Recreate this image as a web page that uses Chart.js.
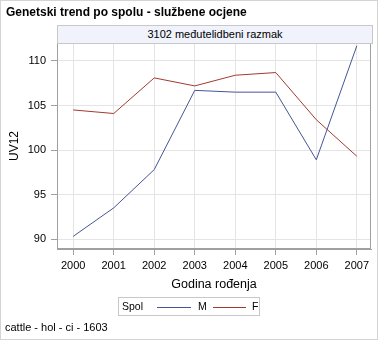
<!DOCTYPE html>
<html>
<head>
<meta charset="utf-8">
<script src="https://cdn.jsdelivr.net/npm/chart.js@4/dist/chart.umd.min.js"></script>
<style>
  body { margin: 0; background: #fff; font-family: "Liberation Sans", Arial, sans-serif; }
  #frame { position: relative; width: 376px; height: 338px; border: 1px solid #d4d4d4; overflow: hidden; }
  #chart { position: absolute; left: -1px; top: -1px; }
  .title { position: absolute; left: 5px; top: 4px; font-size: 12px; font-weight: bold; color: #000; }
  .header { position: absolute; left: 56px; top: 24px; width: 314px; height: 17px; background: #f0f3fb;
            border: 1px solid #c8c8c8; font-size: 11px; text-align: center; line-height: 17px; }
  .legend { position: absolute; left: 117px; top: 296px; width: 140px; height: 17px; border: 1px solid #c8c8c8;
            font-size: 10.5px; line-height: 17px; }
  .legend span { position: absolute; top: 0; }
  .legend i { position: absolute; top: 9px; height: 0; border-top: 1px solid; }
  .foot { position: absolute; left: 4px; top: 320px; font-size: 11px; }
</style>
</head>
<body>
<div id="frame">
  <canvas id="chart" width="378" height="340"></canvas>
  <div class="title">Genetski trend po spolu - službene ocjene</div>
  <div class="header">3102 međutelidbeni razmak</div>
  <div class="legend">
    <span style="left:3px">Spol</span>
    <i style="left:38px;width:34px;border-color:#445694"></i>
    <span style="left:79px">M</span>
    <i style="left:94px;width:33px;border-color:#a23a2e"></i>
    <span style="left:133px">F</span>
  </div>
  <div class="foot">cattle - hol - ci - 1603</div>
</div>
<script>
// data
const years = [2000, 2001, 2002, 2003, 2004, 2005, 2006, 2007];
const maleValues = [90.3, 93.5, 97.8, 106.7, 106.5, 106.5, 98.9, 111.7];
const femaleValues = [104.5, 104.1, 108.1, 107.2, 108.4, 108.7, 103.4, 99.3];
const yTicks = [90, 95, 100, 105, 110];

function toPoints(values) {
    return years.map((year, i) => ({ x: year, y: values[i] }));
}

const plotBorder = {
    id: 'plotBorder',
    afterDraw(chart) {
        const { ctx, chartArea } = chart;
        ctx.save();
        ctx.strokeStyle = '#a0a0a0';
        ctx.lineWidth = 1;
        ctx.strokeRect(chartArea.left + 0.5, chartArea.top + 0.5,
            chartArea.right - chartArea.left - 1, chartArea.bottom - chartArea.top - 1);
        ctx.restore();
    }
};

new Chart(document.getElementById('chart'), {
    type: 'line',
    data: {
        datasets: [
            { label: 'M', data: toPoints(maleValues), borderColor: '#445694', borderWidth: 1, pointRadius: 0, tension: 0 },
            { label: 'F', data: toPoints(femaleValues), borderColor: '#a23a2e', borderWidth: 1, pointRadius: 0, tension: 0 }
        ]
    },
    options: {
        responsive: false,
        animation: false,
        layout: { padding: { left: 0, top: 43, right: 7, bottom: 48 } },
        plugins: { legend: { display: false }, tooltip: { enabled: false } },
        scales: {
            x: {
                type: 'linear',
                min: 1999.6,
                max: 2007.35,
                afterBuildTicks: scale => { scale.ticks = years.map(v => ({ value: v })); },
                afterFit: scale => { scale.height = 43; },
                grid: { color: '#e4e4e4', tickColor: '#a0a0a0', tickLength: 6 },
                border: { color: '#a0a0a0' },
                ticks: { color: '#000', font: { family: 'Liberation Sans', size: 11 }, padding: 4, maxRotation: 0,
                         callback: v => String(v) },
                title: { display: true, text: 'Godina rođenja', color: '#000',
                         font: { family: 'Liberation Sans', size: 12.5 }, padding: { top: 3, bottom: 0 } }
            },
            y: {
                min: 88.88,
                max: 112.02,
                afterBuildTicks: scale => { scale.ticks = yTicks.map(v => ({ value: v })); },
                afterFit: scale => { scale.width = 57; },
                grid: { color: '#e4e4e4', tickColor: '#a0a0a0', tickLength: 6 },
                border: { color: '#a0a0a0' },
                ticks: { color: '#000', font: { family: 'Liberation Sans', size: 11 }, padding: 5 },
                title: { display: true, text: 'UV12', color: '#000',
                         font: { family: 'Liberation Sans', size: 12 }, padding: { top: 7, bottom: 0 } }
            }
        }
    },
    plugins: [plotBorder]
});
</script>
</body>
</html>
